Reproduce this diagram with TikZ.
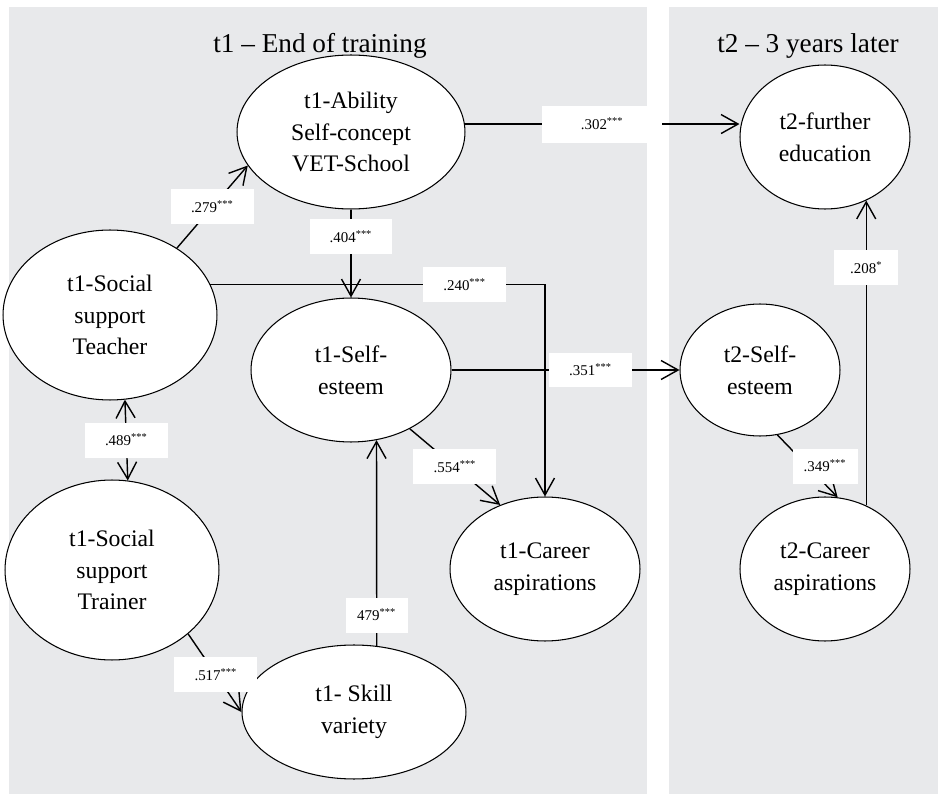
\documentclass[tikz,border=0pt]{standalone}
\usepackage{fontspec}
\setmainfont{Liberation Serif}
\usetikzlibrary{arrows.meta,shapes.geometric}
\definecolor{panelgray}{RGB}{232,233,235}

\begin{document}
\begin{tikzpicture}[x=0.02cm,y=-0.02cm,
  latent/.style={ellipse,draw,fill=white,line width=0.6pt,minimum width=4.28cm,minimum height=3.4cm,inner sep=0pt,align=center,font=\fontsize{13.5}{18}\selectfont},
  coef/.style={fill=white,minimum width=1.66cm,minimum height=0.7cm,inner sep=0pt,font=\fontsize{8.5}{9}\selectfont},
  eff/.style={-{Straight Barb[length=3.4mm,width=3.8mm]},line width=0.8pt},
  title/.style={font=\fontsize{15.5}{18}\selectfont}]
\useasboundingbox (0,0) rectangle (938,794);
\fill [panelgray] (9,7) rectangle (647,794);
\fill [panelgray] (669,7) rectangle (938,794);
\node [title] (t1) at (320,46) {t1 -- End of training};
\node [title] (t2) at (808,46) {t2 -- 3 years later};
\node [latent, minimum width=4.56cm, minimum height=3.08cm] (ability) at (351,132) {t1-Ability\\Self-concept\\VET-School};
\node [latent] (teacher) at (110,315) {t1-Social\\support\\Teacher};
\node [latent, minimum width=4cm, minimum height=2.88cm] (se1) at (351,370) {t1-Self-\\esteem};
\node [latent, minimum height=3.6cm] (trainer) at (112,570) {t1-Social\\support\\Trainer};
\node [latent, minimum width=4.48cm, minimum height=2.68cm] (skill) at (354,712) {t1- Skill\\variety};
\node [latent, minimum width=3.8cm, minimum height=2.88cm] (car1) at (545,569) {t1-Career\\aspirations};
\node [latent, minimum width=3.4cm, minimum height=2.88cm] (edu) at (825,137) {t2-further\\education};
\node [latent, minimum width=3.2cm, minimum height=2.64cm] (se2) at (760,370) {t2-Self-\\esteem};
\node [latent, minimum width=3.4cm, minimum height=2.88cm] (car2) at (825,569) {t2-Career\\aspirations};
\draw [eff] (teacher.45) -- node [coef] {.279\textsuperscript{***}} (ability.198);
\draw [eff] (ability.south) -- node [coef, pos=0.31] {.404\textsuperscript{***}} (se1.north);
\draw [eff] (ability.4) -- node [coef, minimum width=2.4cm, minimum height=0.74cm] {.302\textsuperscript{***}} (ability.4 -| edu.west);
\draw [eff] (teacher.17) -| node [coef, pos=0.38] {.240\textsuperscript{***}} (car1.north);
\draw [{Straight Barb[length=3.4mm,width=3.8mm]}-{Straight Barb[length=3.4mm,width=3.8mm]}, line width=0.8pt] (teacher.-80) -- node [coef] {.489\textsuperscript{***}} (trainer.80);
\draw [eff] (trainer.-40) -- node [coef, pos=0.52] {.517\textsuperscript{***}} (skill.180);
\draw [eff] (skill.71) -- node [coef, pos=0.15, minimum width=1.24cm] {479\textsuperscript{***}} (se1.-70);
\draw [eff] (se1.-45) -- node [coef] {.554\textsuperscript{***}} (car1.125);
\draw [eff] (se1.east) -- node [coef, pos=0.61] {.351\textsuperscript{***}} (se2.west);
\draw [eff] (se2.-75) -- node [coef, xshift=0.35cm, minimum width=1.3cm] {.349\textsuperscript{***}} (car2.80);
\draw [eff] (car2.57) -- node [coef, pos=0.78, minimum width=1.28cm] {.208\textsuperscript{*}} (edu.-57);
\end{tikzpicture}
\end{document}
